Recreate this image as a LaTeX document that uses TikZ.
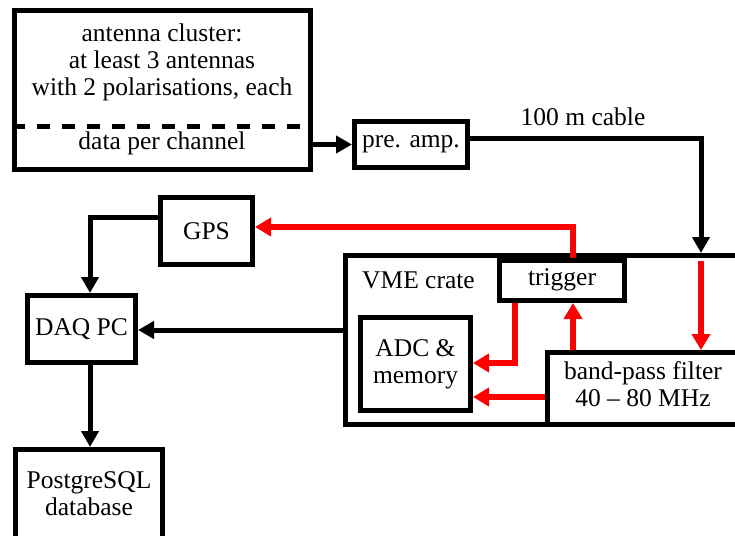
\documentclass[tikz,border=0pt]{standalone}
\usepackage{fontspec}
\setmainfont{Liberation Serif}
\usetikzlibrary{arrows.meta}
\begin{document}
\begin{tikzpicture}[x=1pt,y=-1pt,
  box/.style={draw, line width=5pt, inner sep=0pt, align=center, font=\fontsize{25.5}{27}\selectfont},
  txt/.style={inner sep=0pt, align=center, font=\fontsize{25.5}{27}\selectfont},
  blk/.style={line width=5pt, -{Triangle[length=16pt,width=17pt]}},
  sig/.style={line width=6pt, red, -{Triangle[length=16pt,width=18pt]}}]
\useasboundingbox (0,0) rectangle (735,535);
% boxes
\node[box, minimum width=296pt, minimum height=158pt] (ant) at (162,90) {};
\node[txt] (anttxt) at (162,62) {antenna cluster:\\at least 3 antennas\\with 2 polarisations, each};
\node[txt] (chan) at (162,143) {data per channel};
\draw[line width=5pt, dash pattern=on 13pt off 12pt] (ant.west |- 0,126) -- (ant.east |- 0,126);
\node[box, minimum width=113pt, minimum height=46pt] (pre) at (411,144.5) {pre. amp.};
\node[txt] (cablelbl) at (583,117) {100 m cable};
\node[box, minimum width=92pt, minimum height=67pt] (gps) at (206.5,231) {GPS};
\node[box, minimum width=108pt, minimum height=67pt] (daq) at (81.5,329) {DAQ PC};
\node[box, minimum width=147pt, minimum height=121pt] (pg) at (89,510) {};
\node[txt] (pgtxt) at (89,494) {PostgreSQL\\database};
\node[box, minimum width=414.5pt, minimum height=169pt] (crate) at (552.75,340) {};
\node[txt, anchor=west] (cratetxt) at (362,280) {VME crate};
\node[box, minimum width=125pt, minimum height=40.5pt] (trig) at (562,280.25) {trigger};
\node[box, minimum width=110pt, minimum height=93pt] (adc) at (415.5,364) {ADC \&\\memory};
\node[box, minimum width=212.5pt, minimum height=72pt] (bpf) at (653.75,388.5) {};
\node[txt] (bpftxt) at (643,384) {band-pass filter\\40 -- 80 MHz};
% black connectors
\coordinate (cabx) at (701,138);
\draw[blk] (ant.east |- pre.west) -- (pre.west);
\draw[blk] (pre.east |- cabx) -- (cabx) -- (cabx |- crate.north);
\draw[blk] (gps.west |- 0,217) -- (90,217) -- (daq.north -| 90,0);
\draw[blk] (daq.south -| 90,0) -- (pg.north -| 90,0);
\draw[blk] (crate.west |- 0,330) -- (daq.east |- 0,330);
% red connectors
\coordinate (redin) at (701,261);
\draw[sig] (trig.north -| 573,0) -- (573,227) -- (gps.east |- 0,227);
\draw[sig] (trig.south -| 515,0) |- (adc.east |- 0,363);
\draw[sig] (bpf.north -| 573,0) -- (trig.south -| 573,0);
\draw[sig] (bpf.west |- 0,397) -- (adc.east |- 0,397);
\draw[sig] (redin) -- (bpf.north -| redin);
\end{tikzpicture}
\end{document}
